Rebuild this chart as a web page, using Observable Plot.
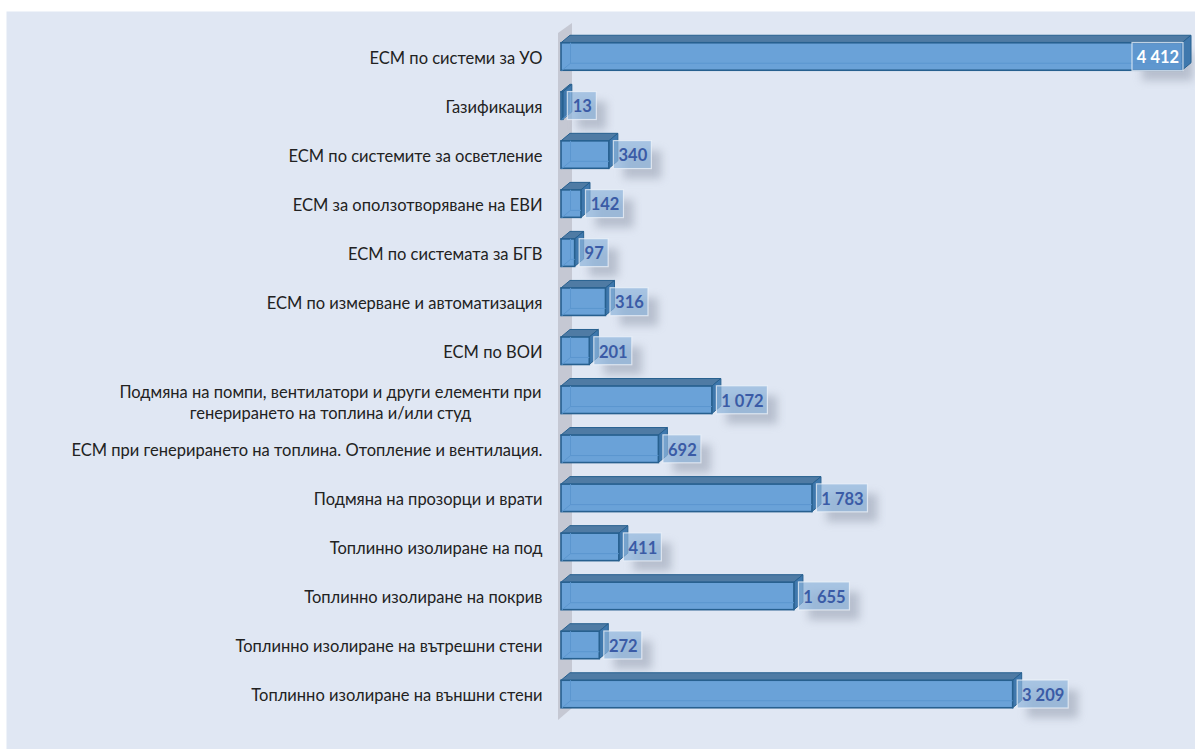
<!DOCTYPE html>
<html><head><meta charset="utf-8">
<script src="https://cdn.jsdelivr.net/npm/d3@7"></script>
<script src="https://cdn.jsdelivr.net/npm/@observablehq/plot@0.6"></script>
<style>html,body{margin:0;padding:0;background:#fff}svg{display:block}</style>
</head><body><div id="chart"></div>
<script>
const categories = [
  "ЕСМ по системи за УО",
  "Газификация",
  "ЕСМ по системите за осветление",
  "ЕСМ за оползотворяване на ЕВИ",
  "ЕСМ по системата за БГВ",
  "ЕСМ по измерване и автоматизация",
  "ЕСМ по ВОИ",
  "Подмяна на помпи, вентилатори и други елементи при\nгенерирането на топлина и/или студ",
  "ЕСМ при генерирането на топлина. Отопление и вентилация.",
  "Подмяна на прозорци и врати",
  "Топлинно изолиране на под",
  "Топлинно изолиране на покрив",
  "Топлинно изолиране на вътрешни стени",
  "Топлинно изолиране на външни стени"
];
const values = [4412, 13, 340, 142, 97, 316, 201, 1072, 692, 1783, 411, 1655, 272, 3209];

const W = 1195, H = 749;
const X0 = 561, X1 = 1182, Y0 = 56.5, Y1 = 694;
const ux = (X1 - X0) / 4412, uy = (Y1 - Y0) / 13;
const px = p => p / ux, py = p => p / uy;
const fmt = v => String(v).replace(/\B(?=(\d{3})+$)/g, " ");
const H2 = py(13.75), DX = px(9), DY = py(7.5);
const rows = values.map((v, i) => ({i, v, cat: categories[i], label: fmt(v)}));

const topFaces = rows.flatMap(d => [
  {i: d.i, x1: 0, x2: d.v, y: d.i - H2},
  {i: d.i, x1: DX, x2: d.v + DX, y: d.i - H2 - DY}
]);
const sideFaces = rows.flatMap(d => [
  {i: d.i, x: d.v, y1: d.i - H2, y2: d.i + H2},
  {i: d.i, x: d.v + DX, y1: d.i - H2 - DY, y2: d.i + H2 - DY}
]);
const wall = [
  {x: px(-3), y1: py(33 - Y0), y2: py(720 - Y0)},
  {x: px(11), y1: py(23 - Y0), y2: py(708 - Y0)}
];
const boxW = s => s.length >= 5 ? 51 : s.length === 3 ? 38 : 29;
const boxes = rows.map(d => {
  const w = px(boxW(d.label));
  const x1 = d.v > 4000 ? d.v - w + px(1) : d.v + px(4.5);
  return {...d, x1, x2: x1 + w, y1: d.i - py(14), y2: d.i + py(14), xc: x1 + w / 2, inside: d.v > 4000};
});
const singles = rows.filter(d => !d.cat.includes("\n"));
const multis = rows.filter(d => d.cat.includes("\n"));
const FONT = "Lato, 'Noto Sans', sans-serif";
const edge = "#27608f";

const plot = Plot.plot({
  width: W, height: H, margin: 0,
  style: {background: "#fff", fontFamily: FONT},
  x: {domain: [0, 4412], range: [X0, X1], axis: null},
  y: {domain: [0, 13], range: [Y0, Y1], axis: null},
  marks: [
    Plot.frame({fill: "#e0e7f3", stroke: null, insetLeft: 6, insetTop: 11}),
    Plot.area(wall, {x1: "x", y1: "y1", y2: "y2", fill: "#c5c8d3"}),
    Plot.rect(boxes, {x1: "x1", x2: "x2", y1: "y1", y2: "y2", dx: 10, dy: 10, fill: "#7f879c", fillOpacity: 0.42, imageFilter: "blur(4px)"}),
    Plot.area(topFaces, {x1: "x1", x2: "x2", y1: "y", z: "i", fill: "#4f7ba4", stroke: edge, strokeWidth: 1}),
    Plot.area(sideFaces, {x1: "x", y1: "y1", y2: "y2", z: "i", fill: "#3f78ad", stroke: edge, strokeWidth: 1}),
    Plot.rect(rows, {x1: 0, x2: "v", y1: d => d.i - H2, y2: d => d.i + H2, fill: "#6aa2d8", stroke: edge, strokeWidth: 1.6}),
    Plot.ruleX(rows, {x: DX, y1: d => d.i - H2, y2: d => d.i + H2 - DY, stroke: "#5b96cf", strokeWidth: 1}),
    Plot.ruleY(rows.filter(d => d.v > DX), {y: d => d.i + H2 - DY, x1: DX, x2: "v", stroke: "#5b96cf", strokeWidth: 1}),
    Plot.link(rows, {x1: 0, y1: d => d.i + H2, x2: DX, y2: d => d.i + H2 - DY, stroke: "#5b96cf", strokeWidth: 1}),
    Plot.rect(boxes, {x1: "x1", x2: "x2", y1: "y1", y2: "y2", fill: d => d.inside ? "#5b93cc" : "#8fb5dc", fillOpacity: 0.7, stroke: "#eef3fa", strokeOpacity: 0.75, strokeWidth: 1.2}),
    Plot.text(boxes, {x: "xc", y: "i", dy: 1, text: "label", fill: d => d.inside ? "#fff" : "#3a5ba6", fontWeight: 700, fontSize: 16.5}),
    Plot.text(singles, {x: 0, y: "i", dy: 1.5, text: "cat", textAnchor: "end", dx: -19, fill: "#222", fontSize: 16.5}),
    Plot.text(multis, {x: 0, y: "i", dy: 1.5, text: "cat", textAnchor: "middle", dx: -231, fill: "#222", fontSize: 16.5, lineHeight: 1.27})
  ]
});
document.getElementById("chart").append(plot);
</script></body></html>
